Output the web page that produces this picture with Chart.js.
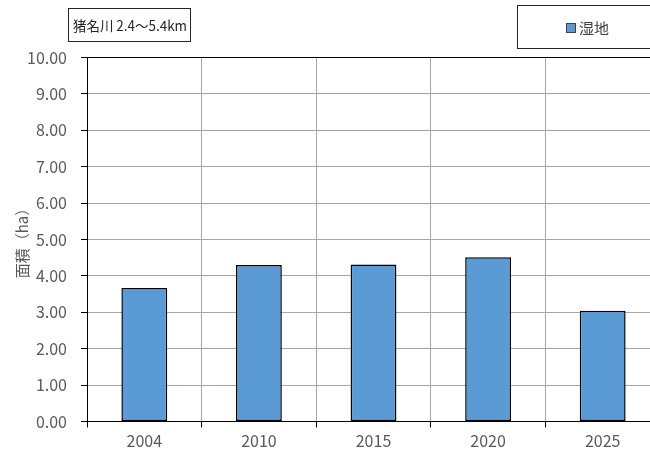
<!DOCTYPE html>
<html>
<head>
<meta charset="utf-8">
<script src="https://cdn.jsdelivr.net/npm/chart.js@4/dist/chart.umd.min.js"></script>
<style>
  body { margin: 0; background: #fff; }
  #wrap { width: 650px; height: 455px; overflow: hidden; }
</style>
</head>
<body>
<div id="wrap"><canvas id="area-chart" width="670" height="455"></canvas></div>
<script>
var years = ['2004', '2010', '2015', '2020', '2025'];
var wetland = [3.67, 4.30, 4.31, 4.51, 3.04];
var seriesName = '湿地';
var sectionName = '猪名川 2.4～5.4km';
var yTitle = '面積（ha）';

var FONT = '"Noto Sans CJK JP", "Noto Sans", sans-serif';

// title box and legend box drawn on top of the chart
var boxes = {
    id: 'boxes',
    afterDraw: function(chart){
        var ctx = chart.ctx;
        ctx.save();
        ctx.fillStyle = '#fff';
        ctx.strokeStyle = '#262626';
        ctx.lineWidth = 1;

        ctx.fillRect(68.5, 8.5, 122, 33);
        ctx.strokeRect(68.5, 8.5, 122, 33);
        ctx.fillStyle = '#262626';
        ctx.font = '14px ' + FONT;
        ctx.textBaseline = 'middle';
        ctx.textAlign = 'left';
        ctx.fillText(sectionName, 73, 25.5, 114);

        ctx.fillStyle = '#fff';
        ctx.fillRect(517.5, 5.5, 150, 43);
        ctx.strokeRect(517.5, 5.5, 150, 43);
        ctx.fillStyle = '#5b9bd5';
        ctx.fillRect(566.5, 23.5, 9, 9);
        ctx.strokeStyle = '#404040';
        ctx.strokeRect(566.5, 23.5, 9, 9);
        ctx.fillStyle = '#404040';
        ctx.font = '15px ' + FONT;
        ctx.fillText(seriesName, 579, 28);
        ctx.restore();
    }
};

var myChart = new Chart(document.getElementById('area-chart'), {
    type: 'bar',
    data: {
        labels: years,
        datasets: [{
            label: seriesName,
            data: wetland,
            backgroundColor: '#5b9bd5',
            borderColor: '#000',
            borderWidth: 1.5,
            borderSkipped: false,
            categoryPercentage: 1,
            barPercentage: 0.4
        }]
    },
    options: {
        responsive: false,
        animation: false,
        layout: { padding: { left: 0, right: 10, top: 57.5, bottom: 0 } },
        plugins: {
            legend: { display: false },
            tooltip: { enabled: false }
        },
        scales: {
            x: {
                grid: {
                    color: '#a6a6a6',
                    tickColor: '#000',
                    tickLength: 6,
                    offset: true
                },
                border: { color: '#000', width: 1 },
                ticks: {
                    color: '#595959',
                    font: { family: FONT, size: 16 },
                    padding: 4
                },
                afterFit: function(axis){ axis.height = 33.5; }
            },
            y: {
                min: 0,
                max: 10,
                grid: {
                    color: function(c){ return c.tick && c.tick.value === 10 ? '#000' : '#a6a6a6'; },
                    tickColor: '#000',
                    tickLength: 6
                },
                border: { color: '#000', width: 1 },
                ticks: {
                    stepSize: 1,
                    color: '#595959',
                    padding: 14,
                    font: { family: FONT, size: 16 },
                    callback: function(v){ return v.toFixed(2); }
                },
                title: {
                    display: true,
                    text: yTitle,
                    color: '#595959',
                    font: { family: FONT, size: 15 },
                    padding: { top: 13, bottom: 0 }
                },
                afterFit: function(axis){ axis.width = 87; }
            }
        }
    },
    plugins: [boxes]
});
</script>
</body>
</html>
